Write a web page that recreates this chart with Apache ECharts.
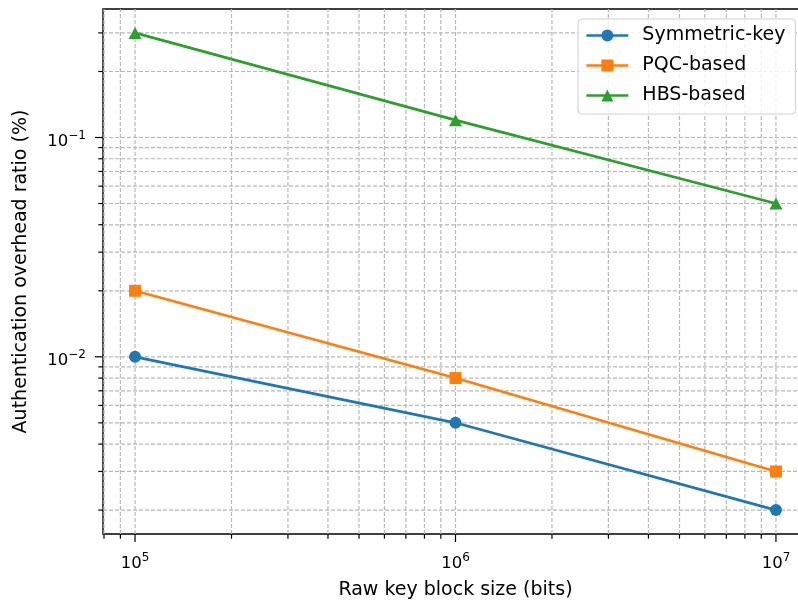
<!DOCTYPE html>
<html>
<head>
<meta charset="utf-8">
<script src="https://cdn.jsdelivr.net/npm/echarts@6/dist/echarts.min.js"></script>
<style>
html,body{margin:0;padding:0;background:#fff;}
#chart{width:798px;height:605px;}
</style>
</head>
<body>
<div id="chart"></div>
<script>
// ---- data ----
const blockSizes = [1e5, 1e6, 1e7];
const symmetricKey = [0.01, 0.005, 0.002];
const pqcBased = [0.02, 0.008, 0.003];
const hbsBased = [0.3, 0.12, 0.05];
const seriesNames = ['Symmetric-key', 'PQC-based', 'HBS-based'];

// ---- axes / ticks ----
const xMajorTicks = [1e5, 1e6, 1e7];
const xTickExponents = ['5', '6', '7'];
const xMinorTicks = [8e4, 9e4, 2e5, 3e5, 4e5, 5e5, 6e5, 7e5, 8e5, 9e5, 2e6, 3e6, 4e6, 5e6, 6e6, 7e6, 8e6, 9e6];
const yMajorTicks = [0.01, 0.1];
const yTickExponents = ['\u22122', '\u22121'];
const yMinorTicks = [0.002, 0.003, 0.004, 0.005, 0.006, 0.007, 0.008, 0.009, 0.02, 0.03, 0.04, 0.05, 0.06, 0.07, 0.08, 0.09, 0.2, 0.3];
const xLogMin = 4.9, xLogMax = 7.1;
const yLogMin = -2.808, yLogMax = -0.414;
const xMin = Math.pow(10, xLogMin), xMax = Math.pow(10, xLogMax);
const yMin = Math.pow(10, yLogMin), yMax = Math.pow(10, yLogMax);

const colors = ['#1f77b4', '#ff7f0e', '#2ca02c'];
const FONT = 'DejaVu Sans';
const gridColor = '#b8b8b8';

function expLabel(value, majors, exps) {
  for (let i = 0; i < majors.length; i++) {
    if (Math.abs(Math.log10(value) - Math.log10(majors[i])) < 1e-6) {
      return '{b|10}{s|' + exps[i] + '}';
    }
  }
  return '';
}
const richLabel = {
  b: {fontFamily: FONT, fontSize: 16.5, color: '#000', lineHeight: 20, verticalAlign: 'bottom'},
  s: {fontFamily: FONT, fontSize: 12, color: '#000', lineHeight: 20, verticalAlign: 'top'}
};

const xTickData = xMajorTicks.map(v => [v, yMin, 1]).concat(xMinorTicks.map(v => [v, yMin, 0]));
const yTickData = yMajorTicks.map(v => [xMin, v, 1]).concat(yMinorTicks.map(v => [xMin, v, 0]));

function renderXTick(params, api) {
  const v = api.value(0), major = api.value(2);
  const top = api.coord([v, yMax]);
  const bot = api.coord([v, yMin]);
  const len = major ? 8 : 4.7;
  return {type: 'group', children: [
    {type: 'line', shape: {x1: bot[0], y1: bot[1], x2: top[0], y2: top[1]},
     style: {stroke: gridColor, lineWidth: 1.2, lineDash: [4, 2]}},
    {type: 'line', shape: {x1: bot[0], y1: bot[1], x2: bot[0], y2: bot[1] + len},
     style: {stroke: '#000', lineWidth: 1.2}}
  ]};
}
function renderYTick(params, api) {
  const v = api.value(1), major = api.value(2);
  const left = api.coord([xMin, v]);
  const right = api.coord([xMax, v]);
  const len = major ? 8 : 4.7;
  return {type: 'group', children: [
    {type: 'line', shape: {x1: left[0], y1: left[1], x2: right[0], y2: right[1]},
     style: {stroke: gridColor, lineWidth: 1.2, lineDash: [4, 2]}},
    {type: 'line', shape: {x1: left[0], y1: left[1], x2: left[0] - len, y2: left[1]},
     style: {stroke: '#000', lineWidth: 1.2}}
  ]};
}

function lineSeries(name, values, color, symbol, size) {
  return {
    name: name, type: 'line', z: 5,
    data: blockSizes.map((x, i) => [x, values[i]]),
    symbol: symbol, symbolSize: size,
    lineStyle: {color: color, width: 2.7},
    itemStyle: {color: color},
    showSymbol: true, animation: false
  };
}

const chart = echarts.init(document.getElementById('chart'), null, {renderer: 'canvas'});
chart.setOption({
  animation: false,
  backgroundColor: '#fff',
  grid: {left: 103, top: 9, width: 705, height: 525, show: true, borderColor: '#000', borderWidth: 1.4,
         backgroundColor: 'transparent', containLabel: false, outerBoundsMode: 'none'},
  legend: {
    data: seriesNames,
    orient: 'vertical', left: 578, top: 19,
    itemWidth: 42, itemHeight: 15, itemGap: 11,
    padding: [7, 10, 9, 7],
    backgroundColor: 'rgba(255,255,255,0.8)', borderColor: '#d0d0d0', borderWidth: 1, borderRadius: 4,
    lineStyle: {width: 2.7},
    textStyle: {fontFamily: FONT, fontSize: 19, color: '#000', lineHeight: 19, padding: [0, 0, 0, 9]}
  },
  xAxis: {
    type: 'log', logBase: 10, min: xMin, max: xMax,
    name: 'Raw key block size (bits)', nameLocation: 'middle', nameGap: 47,
    nameTextStyle: {fontFamily: FONT, fontSize: 19, color: '#000'},
    axisLine: {show: false}, axisTick: {show: false}, splitLine: {show: false},
    axisLabel: {margin: 18, showMinLabel: false, showMaxLabel: false, hideOverlap: false,
      formatter: v => expLabel(v, xMajorTicks, xTickExponents), rich: richLabel}
  },
  yAxis: {
    type: 'log', logBase: 10, min: yMin, max: yMax,
    name: 'Authentication overhead ratio (%)', nameLocation: 'middle', nameGap: 72,
    nameTextStyle: {fontFamily: FONT, fontSize: 19, color: '#000'},
    axisLine: {show: false}, axisTick: {show: false}, splitLine: {show: false},
    axisLabel: {margin: 17, padding: [5, 0, 0, 0], showMinLabel: false, showMaxLabel: false, hideOverlap: false,
      formatter: v => expLabel(v, yMajorTicks, yTickExponents), rich: richLabel}
  },
  series: [
    {type: 'custom', name: 'xgrid', coordinateSystem: 'cartesian2d', renderItem: renderXTick,
     data: xTickData, clip: false, z: 1, silent: true, encode: {x: 0, y: 1}},
    {type: 'custom', name: 'ygrid', coordinateSystem: 'cartesian2d', renderItem: renderYTick,
     data: yTickData, clip: false, z: 1, silent: true, encode: {x: 0, y: 1}},
    lineSeries(seriesNames[0], symmetricKey, colors[0], 'circle', 12),
    lineSeries(seriesNames[1], pqcBased, colors[1], 'rect', 12),
    lineSeries(seriesNames[2], hbsBased, colors[2], 'triangle', [13, 12])
  ]
});
</script>
</body>
</html>
